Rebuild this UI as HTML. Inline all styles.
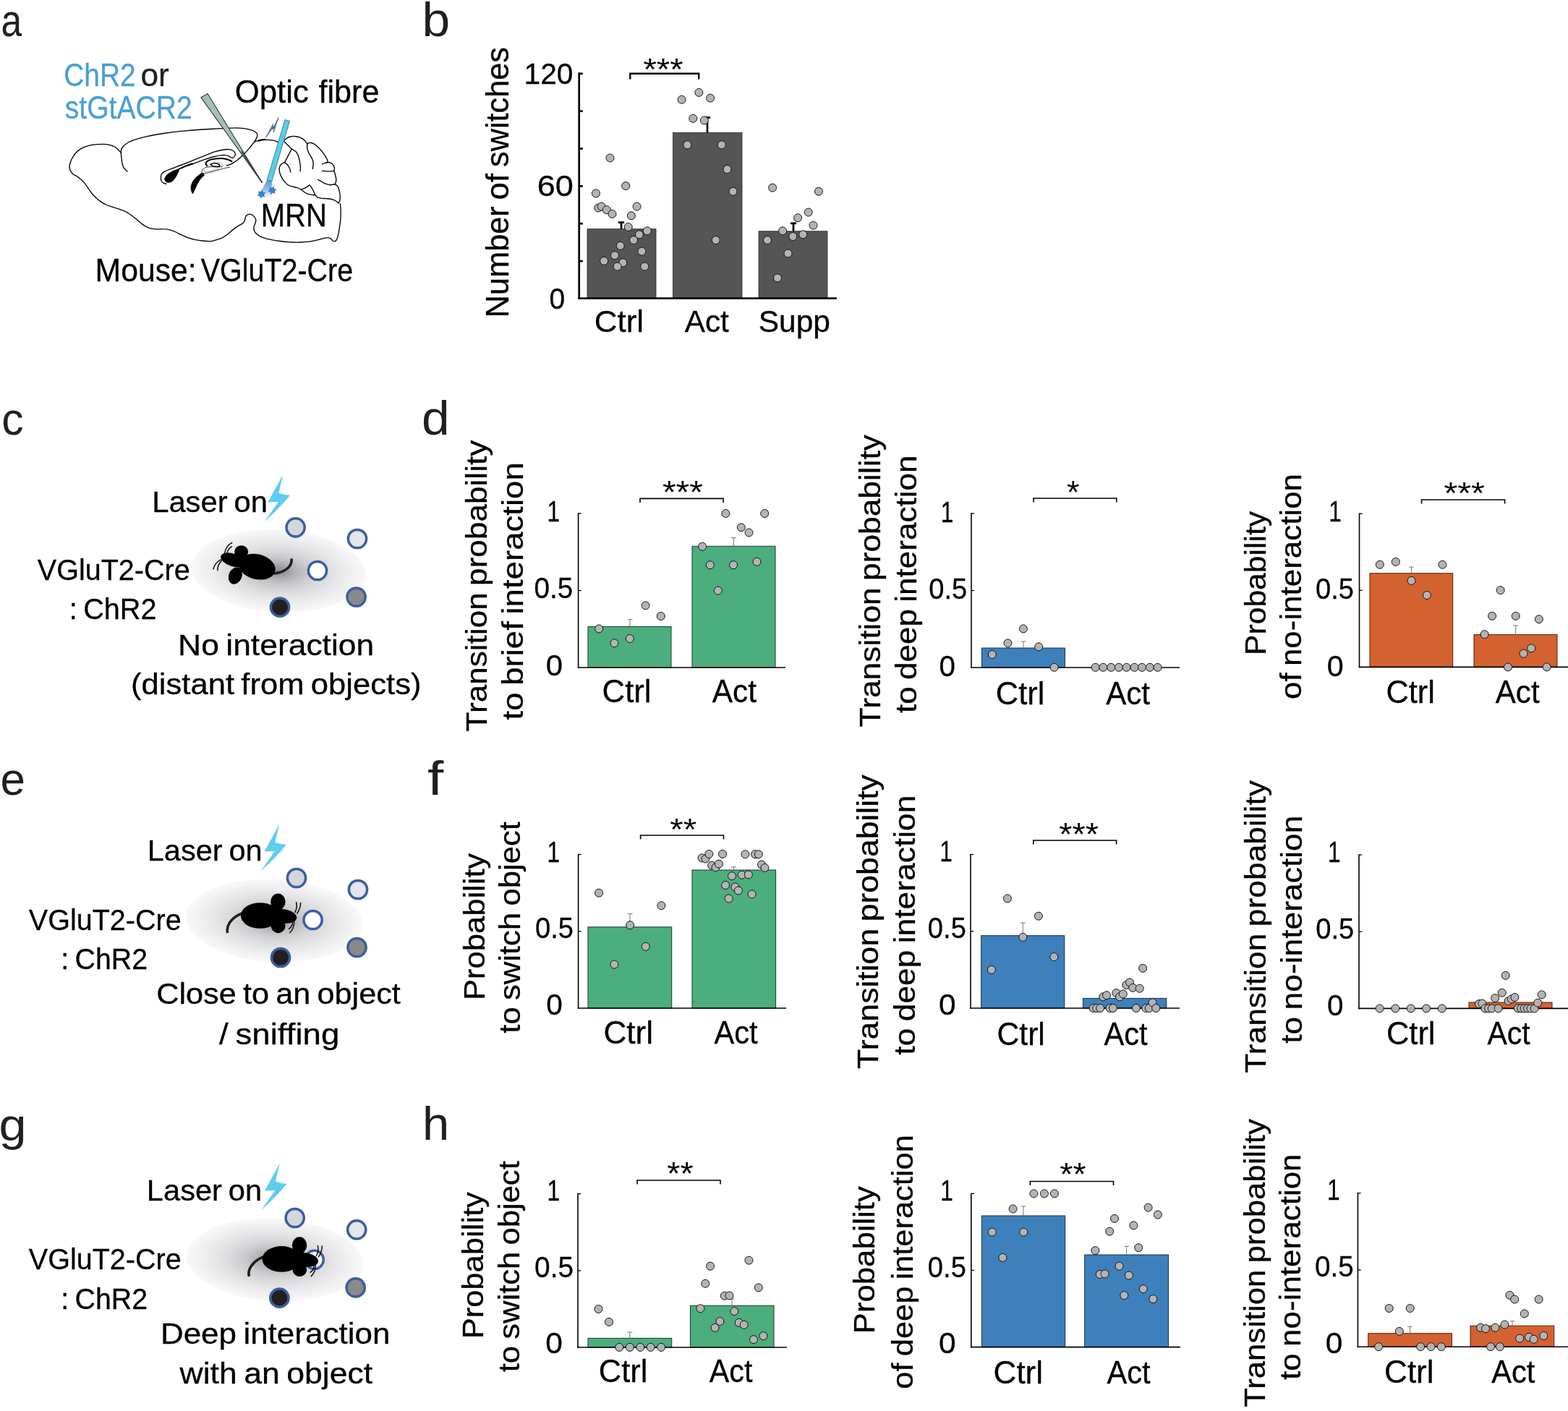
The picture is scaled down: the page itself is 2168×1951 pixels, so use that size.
<!DOCTYPE html>
<html lang="en">
<head>
<meta charset="utf-8">
<title>Figure</title>
<style>
html,body{margin:0;padding:0;background:#fff;}
body{width:2168px;height:1951px;overflow:hidden;}
svg{display:block;}
svg text{font-family:"Liberation Sans",sans-serif;}
svg text.s{stroke-width:0.3px;stroke-linejoin:round;}
</style>
</head>
<body>
<svg xmlns="http://www.w3.org/2000/svg" width="2168" height="1951" viewBox="0 0 2168 1951">
<rect width="2168" height="1951" fill="#fff"/>
<text transform="translate(1.48,50.17) scale(0.8058,0.9830)" font-size="64" fill="#231f20">a</text>
<text transform="translate(583.48,50.33) scale(1.0868,1.0417)" font-size="64" fill="#231f20">b</text>
<text transform="translate(2.16,600.57) scale(0.9520,0.9830)" font-size="64" fill="#231f20">c</text>
<text transform="translate(583.02,600.53) scale(1.0868,1.0438)" font-size="64" fill="#231f20">d</text>
<text transform="translate(0.61,1099.07) scale(0.9677,0.9830)" font-size="64" fill="#231f20">e</text>
<text transform="translate(590.99,1098.60) scale(1.2559,1.0517)" font-size="64" fill="#231f20">f</text>
<text transform="translate(-1.54,1576.68) scale(1.0694,0.9836)" font-size="64" fill="#231f20">g</text>
<text transform="translate(584.12,1575.80) scale(1.0454,1.0259)" font-size="64" fill="#231f20">h</text>
<g id="brain">
<path d="M176.0,237.0 C175.1,236.2 172.2,233.8 171.1,231.8 C169.9,229.9 169.4,227.8 168.9,225.3 C168.3,222.7 168.1,219.3 167.8,216.6 C167.5,213.9 167.0,211.1 167.3,209.0 C167.5,206.8 167.8,205.5 169.4,203.5 C171.1,201.5 174.0,198.8 177.1,197.0 C180.1,195.2 183.4,194.1 187.9,192.6 C192.5,191.2 197.9,189.7 204.3,188.3 C210.6,186.9 217.9,185.7 226.0,184.5 C234.2,183.3 244.2,182.1 253.2,181.2 C262.3,180.3 271.4,179.6 280.4,179.0 C289.4,178.5 299.8,178.1 307.3,177.7 C314.8,177.3 320.3,176.9 325.4,176.9 C330.5,176.9 333.9,177.2 337.8,177.7 C341.6,178.3 345.8,179.2 348.5,180.2 C351.2,181.1 353.0,182.4 354.3,183.5 C355.5,184.6 355.9,185.5 355.9,186.8 C356.0,188.0 355.4,189.4 354.7,190.9 C354.0,192.4 353.2,193.8 351.8,195.8 C350.4,197.9 347.9,200.9 346.0,203.3 C344.1,205.6 342.3,207.7 340.3,209.9 C338.2,212.1 335.6,214.6 333.7,216.5 C331.7,218.3 330.2,219.8 328.7,221.0 C327.2,222.2 326.1,222.9 324.6,223.9 C323.1,224.8 321.6,225.9 319.6,226.8 C317.7,227.6 314.1,228.6 313.1,229.0" fill="none" stroke="#000" stroke-width="1.35" stroke-linecap="round" stroke-linejoin="round" />
<path d="M167.5,211.1 C166.9,210.6 165.3,209.1 164.0,207.9 C162.7,206.6 161.5,204.7 159.6,203.5 C157.8,202.3 155.7,201.5 153.1,200.8 C150.6,200.1 147.7,199.6 144.4,199.4 C141.1,199.2 137.2,199.4 133.5,199.7 C129.9,200.0 126.3,200.4 122.6,201.3 C119.0,202.3 114.8,203.9 111.8,205.7 C108.7,207.5 106.2,209.9 104.1,212.2 C102.1,214.6 100.5,217.3 99.2,219.8 C98.0,222.4 97.0,225.3 96.5,227.5 C96.0,229.6 95.9,231.1 96.3,232.9 C96.7,234.7 97.6,236.8 98.7,238.3 C99.8,239.9 101.8,241.3 103.1,242.2 C104.3,243.0 104.9,242.6 106.3,243.6 C107.8,244.6 109.9,246.5 111.8,248.1 C113.6,249.8 115.4,251.4 117.2,253.6 C119.0,255.8 120.8,258.7 122.6,261.2 C124.5,263.7 126.3,266.6 128.1,268.8 C129.9,271.0 131.7,272.6 133.5,274.3 C135.3,275.9 136.8,277.2 139.0,278.6 C141.1,280.1 143.9,281.7 146.6,283.0 C149.3,284.2 152.4,285.2 155.3,286.2 C158.2,287.2 161.3,288.0 164.0,288.9 C166.7,289.9 169.1,290.5 171.6,291.7 C174.1,292.8 176.5,294.2 179.2,296.0 C181.9,297.8 185.2,300.4 187.9,302.5 C190.7,304.7 193.2,307.3 195.5,309.1 C197.9,310.9 200.1,312.3 202.1,313.4 C204.1,314.5 205.3,315.0 207.5,315.6 C209.7,316.2 212.1,316.7 215.1,316.9 C218.2,317.1 222.8,316.5 226.0,316.7 C229.3,316.8 232.0,317.1 234.7,317.8 C237.4,318.4 239.6,319.3 242.3,320.5 C245.1,321.7 248.1,323.5 251.0,324.9 C253.9,326.2 256.7,327.6 259.7,328.7 C262.8,329.7 266.1,330.7 269.5,331.4 C273.0,332.1 276.8,332.7 280.4,333.0 C284.1,333.4 288.0,333.8 291.3,333.6 C294.6,333.3 297.5,332.1 300.0,331.3 C302.5,330.6 304.2,330.3 306.6,329.1 C309.0,327.9 311.7,326.1 314.3,324.2 C316.8,322.3 319.4,319.6 322.0,317.6 C324.5,315.6 327.4,313.6 329.7,312.1 C332.0,310.6 334.3,309.9 335.7,308.8 C337.1,307.7 337.5,306.8 338.1,305.5 C338.7,304.2 338.8,302.4 339.2,301.1 C339.7,299.8 340.0,298.6 340.9,297.8 C341.8,297.0 343.2,296.2 344.5,296.2 C345.8,296.1 347.6,296.5 348.9,297.3 C350.2,298.0 351.4,299.3 352.2,300.5 C353.0,301.8 353.8,303.4 353.8,304.9 C353.9,306.5 353.0,308.2 352.5,309.9 C352.0,311.5 350.9,313.3 350.8,314.8 C350.6,316.4 351.0,317.8 351.6,319.2 C352.3,320.7 353.6,322.3 354.9,323.6 C356.3,324.9 357.9,325.9 359.9,326.9 C361.9,327.9 364.2,328.8 367.0,329.7 C369.9,330.5 373.4,331.2 376.9,331.9 C380.4,332.5 384.2,333.1 387.9,333.5 C391.6,334.0 395.2,334.4 398.9,334.6 C402.6,334.9 406.2,335.1 409.9,335.1 C413.6,335.1 417.2,334.9 420.9,334.6 C424.5,334.3 428.4,333.9 431.9,333.3 C435.3,332.7 439.0,331.8 441.8,331.1 C444.5,330.4 446.3,329.8 448.4,329.3 C450.4,328.9 452.3,328.4 453.8,328.6 C455.4,328.7 456.7,329.5 457.7,330.2 C458.7,331.0 459.0,332.4 459.9,333.0 C460.8,333.5 462.2,333.8 463.2,333.5 C464.2,333.2 465.0,332.6 465.7,331.1 C466.4,329.6 467.0,327.3 467.6,324.7 C468.2,322.2 468.7,319.2 469.2,315.9 C469.7,312.6 470.3,308.8 470.7,304.9 C471.0,301.1 471.2,296.7 471.2,292.9 C471.2,289.0 470.7,283.7 470.5,281.9" fill="none" stroke="#000" stroke-width="1.35" stroke-linecap="round" stroke-linejoin="round" />
<path d="M351.8,196.3 C352.9,195.8 355.9,194.4 358.4,193.8 C360.9,193.1 366.8,192.2 366.6,192.4 C366.4,192.6 357.3,194.9 357.1,195.1 C357.0,195.2 363.0,193.6 365.9,193.4 C368.9,193.2 372.2,193.5 374.7,193.7 C377.3,194.0 379.5,194.5 381.3,195.1 C383.2,195.6 385.0,196.9 385.7,197.3" fill="none" stroke="#000" stroke-width="1.35" stroke-linecap="round" stroke-linejoin="round" />
<path d="M392.3,195.1 C392.9,194.5 394.1,192.8 395.6,191.8 C397.1,190.8 399.1,189.6 401.1,189.0 C403.1,188.5 405.5,188.3 407.7,188.5 C409.9,188.6 412.3,189.0 414.3,189.8 C416.3,190.5 418.3,191.7 419.8,192.9 C421.2,194.0 422.3,195.7 423.1,196.7 C423.9,197.7 424.5,198.7 424.7,199.1" fill="none" stroke="#000" stroke-width="1.35" stroke-linecap="round" stroke-linejoin="round" />
<path d="M424.7,199.1 C425.4,198.8 427.0,197.3 428.6,197.3 C430.1,197.2 432.2,197.9 434.1,198.9 C435.9,199.9 437.7,201.6 439.6,203.3 C441.4,205.0 443.4,207.3 445.1,209.3 C446.7,211.4 448.3,213.6 449.5,215.4 C450.6,217.2 451.6,219.0 452.2,220.3 C452.8,221.7 453.1,222.6 453.0,223.4 C452.9,224.2 451.9,224.9 451.6,225.2" fill="none" stroke="#000" stroke-width="1.35" stroke-linecap="round" stroke-linejoin="round" />
<path d="M445.6,226.9 C446.1,226.7 447.0,226.0 448.4,225.6 C449.7,225.2 452.2,224.5 453.8,224.5 C455.5,224.5 457.0,225.1 458.2,225.8 C459.5,226.6 460.6,227.8 461.3,229.1 C462.0,230.4 462.3,232.2 462.4,233.5 C462.5,234.8 461.9,236.3 461.8,236.8" fill="none" stroke="#000" stroke-width="1.35" stroke-linecap="round" stroke-linejoin="round" />
<path d="M445.1,236.3 C445.8,236.3 447.6,236.5 449.5,236.6 C451.3,236.7 454.0,236.8 456.0,236.8 C458.1,236.8 460.5,235.9 461.8,236.8 C463.0,237.7 463.2,240.5 463.7,242.3 C464.2,244.1 464.7,246.2 464.8,247.8 C464.9,249.5 464.7,251.0 464.3,252.2 C463.9,253.4 462.9,254.5 462.6,254.9" fill="none" stroke="#000" stroke-width="1.35" stroke-linecap="round" stroke-linejoin="round" />
<path d="M439.6,248.4 C440.1,248.6 441.4,249.2 442.9,250.0 C444.3,250.8 446.2,252.3 448.4,253.3 C450.5,254.2 453.7,255.4 456.0,255.7 C458.4,256.0 460.8,254.6 462.6,254.9 C464.5,255.3 465.9,256.1 467.0,257.7 C468.1,259.2 468.7,261.9 469.2,264.3 C469.8,266.7 470.2,269.8 470.3,272.0 C470.4,274.2 470.1,276.0 469.8,277.5 C469.4,278.9 468.4,280.2 468.1,280.8" fill="none" stroke="#000" stroke-width="1.35" stroke-linecap="round" stroke-linejoin="round" />
<path d="M468.1,280.8 C467.4,280.2 465.4,278.4 463.7,277.5 C462.1,276.6 460.3,276.0 458.2,275.5 C456.2,275.0 454.0,274.9 451.6,274.7 C449.3,274.5 446.2,274.5 444.0,274.2 C441.8,273.8 439.8,273.4 438.5,272.5 C437.1,271.7 436.6,270.8 435.7,269.2 C434.8,267.7 434.0,265.1 433.0,263.2 C432.0,261.3 430.5,258.9 429.7,257.7 C428.8,256.5 428.3,256.3 428.0,256.0" fill="none" stroke="#000" stroke-width="1.35" stroke-linecap="round" stroke-linejoin="round" />
<path d="M424.7,199.1 C424.7,200.1 424.4,202.9 424.7,204.9 C425.1,207.0 425.9,209.3 426.9,211.5 C427.9,213.7 429.7,215.9 430.8,218.1 C431.8,220.3 432.9,222.2 433.2,224.7 C433.5,227.3 432.5,232.1 432.4,233.5" fill="none" stroke="#000" stroke-width="1.35" stroke-linecap="round" stroke-linejoin="round" />
<path d="M392.3,195.1 C392.9,195.6 394.3,197.1 395.6,198.4 C396.9,199.6 398.7,201.5 400.0,202.7 C401.3,204.0 401.8,204.9 403.3,206.0 C404.8,207.1 407.3,207.9 408.8,209.3 C410.3,210.8 411.2,212.6 412.1,214.8 C413.0,217.0 413.7,219.8 414.3,222.5 C414.8,225.3 415.2,228.9 415.4,231.3 C415.5,233.7 415.2,235.9 415.2,236.8" fill="none" stroke="#000" stroke-width="1.35" stroke-linecap="round" stroke-linejoin="round" />
<path d="M403.3,206.0 C401.6,209.2 395.1,221.6 393.4,224.7" fill="none" stroke="#000" stroke-width="1.35" stroke-linecap="round" stroke-linejoin="round" />
<path d="M393.4,224.7 C392.7,225.1 390.2,225.7 389.0,226.9 C387.8,228.1 386.6,229.9 386.3,231.9 C385.9,233.9 386.3,236.7 386.8,239.0 C387.4,241.3 388.5,243.6 389.6,245.6 C390.7,247.6 392.0,249.5 393.4,251.1 C394.8,252.7 396.2,254.4 397.8,255.5 C399.5,256.6 401.3,257.1 403.3,257.7 C405.3,258.3 407.9,258.7 409.9,259.3 C411.9,260.0 413.7,260.6 415.4,261.5 C417.0,262.5 418.3,263.8 419.8,264.8 C421.2,265.8 422.5,266.8 424.2,267.6 C425.8,268.3 427.7,268.9 429.7,269.2 C431.6,269.6 434.7,269.7 435.7,269.8" fill="none" stroke="#000" stroke-width="1.35" stroke-linecap="round" stroke-linejoin="round" />
<path d="M393.4,224.7 C394.0,225.1 395.7,225.9 396.7,226.9 C397.7,227.9 398.7,229.5 399.5,230.8 C400.2,232.1 400.7,233.4 401.1,234.6 C401.5,235.8 401.6,237.4 401.6,237.9" fill="none" stroke="#000" stroke-width="1.35" stroke-linecap="round" stroke-linejoin="round" />
<path d="M428.0,256.0 C427.0,256.7 423.9,258.9 422.0,259.9 C420.1,260.9 417.4,261.7 416.5,262.1" fill="none" stroke="#000" stroke-width="1.35" stroke-linecap="round" stroke-linejoin="round" />
<path d="M229.8,254.2 C229.2,254.0 227.2,253.8 226.1,253.1 C225.0,252.5 223.8,251.4 223.2,250.3 C222.6,249.1 222.4,247.6 222.4,246.1 C222.4,244.6 222.5,242.6 223.2,241.2 C223.9,239.8 224.6,239.1 226.5,237.9 C228.4,236.7 230.6,235.8 234.7,234.2 C238.9,232.5 245.7,230.1 251.2,228.0 C256.7,225.9 262.2,223.6 267.7,221.4 C273.2,219.2 279.4,216.7 284.2,214.8 C289.0,212.9 292.4,211.2 296.6,209.9 C300.7,208.6 305.5,207.5 308.9,207.0 C312.4,206.4 315.0,206.4 317.2,206.6 C319.4,206.8 320.8,207.4 322.1,208.2 C323.4,209.0 324.5,210.4 325.0,211.5 C325.5,212.6 325.3,213.8 325.0,214.8 C324.7,215.8 323.8,217.1 322.9,217.7 C322.1,218.2 321.2,218.4 320.1,218.1 C319.0,217.8 317.8,216.4 316.3,215.8 C314.9,215.2 313.3,214.7 311.4,214.6 C309.5,214.4 307.3,214.5 304.8,214.8 C302.3,215.1 300.0,215.6 296.6,216.5 C293.1,217.3 289.0,218.5 284.2,220.2 C279.4,221.8 272.5,224.6 267.7,226.3 C262.9,228.1 258.9,229.2 255.3,230.5 C251.8,231.8 247.8,233.6 246.3,234.2" fill="none" stroke="#000" stroke-width="1.35" stroke-linecap="round" stroke-linejoin="round" />
<path d="M227.7,247.0 C228.0,245.8 228.6,244.2 229.8,242.8 C231.0,241.5 232.8,240.0 234.7,238.7 C236.7,237.5 239.4,236.2 241.3,235.4 C243.3,234.7 245.2,234.2 246.3,234.2 C247.3,234.2 247.6,234.4 247.5,235.4 C247.4,236.4 246.3,238.6 245.4,240.4 C244.6,242.1 243.3,244.5 242.2,246.1 C241.1,247.8 240.1,249.2 238.9,250.3 C237.6,251.3 236.1,252.0 234.7,252.3 C233.4,252.6 231.7,252.3 230.6,251.9 C229.5,251.5 228.6,250.7 228.1,249.8 C227.7,249.0 227.4,248.1 227.7,247.0 Z" fill="#000" stroke="#000" stroke-width="0.5" stroke-linecap="round" stroke-linejoin="round" />
<path d="M246.3,234.4 C247.4,233.8 250.7,231.9 252.9,230.9 C255.1,229.8 257.3,229.0 259.5,228.2 C261.7,227.3 265.0,226.3 266.1,225.9" fill="none" stroke="#000" stroke-width="1.6" stroke-linecap="round" stroke-linejoin="round" />
<path d="M266.1,267.6 C265.4,266.9 264.3,263.7 264.0,261.8 C263.7,259.9 263.9,257.9 264.4,256.0 C264.9,254.1 265.8,252.0 266.9,250.3 C268.0,248.5 269.5,246.8 271.0,245.3 C272.5,243.8 274.6,242.1 276.0,241.2 C277.3,240.2 278.2,239.4 279.2,239.5 C280.3,239.7 282.7,240.9 282.5,242.0 C282.4,243.1 279.8,244.5 278.4,246.1 C277.1,247.8 275.5,249.8 274.3,251.9 C273.1,254.0 272.1,256.2 271.0,258.5 C269.9,260.8 268.5,264.4 267.7,265.9 C266.9,267.4 266.7,268.3 266.1,267.6 Z" fill="#000" stroke="#000" stroke-width="0.5" stroke-linecap="round" stroke-linejoin="round" />
<path d="M286.3,229.2 C286.0,228.8 284.6,227.4 284.6,226.3 C284.6,225.3 285.0,224.0 286.3,223.1 C287.6,222.1 290.0,221.1 292.4,220.4 C294.8,219.8 297.9,219.4 300.7,219.2 C303.4,219.0 306.5,218.9 308.9,219.2 C311.4,219.4 313.6,220.1 315.5,220.7 C317.4,221.4 319.6,222.8 320.5,223.2" fill="none" stroke="#000" stroke-width="2.0" stroke-linecap="round" stroke-linejoin="round" />
<path d="M291.2,227.2 C292.0,226.9 294.2,225.7 295.7,225.5 C297.3,225.4 299.3,225.8 300.7,226.3 C302.1,226.9 303.8,228.0 304.0,228.7 C304.1,229.3 302.9,230.2 301.5,230.5 C300.1,230.7 297.5,230.5 295.7,230.1 C294.0,229.6 292.0,228.0 291.2,227.6" fill="none" stroke="#000" stroke-width="1.5" stroke-linecap="round" stroke-linejoin="round" />
<path d="M300.7,224.3 C301.5,224.6 304.4,225.2 305.6,225.9 C306.9,226.7 308.0,228.0 308.1,228.8 C308.2,229.6 306.7,230.5 306.5,230.9" fill="none" stroke="#555" stroke-width="0.6" stroke-linecap="round" stroke-linejoin="round" />
<path d="M280.1,234.6 C280.8,234.1 282.1,232.4 284.2,231.7 C286.3,231.0 289.7,230.8 292.4,230.6 C295.2,230.5 298.2,230.9 300.7,230.9 C303.2,230.9 306.2,230.5 307.3,230.5" fill="none" stroke="#000" stroke-width="0.8" stroke-linecap="round" stroke-linejoin="round" />
<path d="M280.1,234.6 C279.9,235.3 278.7,237.9 278.8,238.7 C279.0,239.6 279.3,239.7 280.9,239.7 C282.5,239.7 285.7,239.3 288.3,238.7 C290.9,238.2 293.8,237.2 296.6,236.4 C299.3,235.6 302.3,234.9 304.8,234.2 C307.3,233.5 309.2,232.8 311.4,232.3 C313.6,231.8 316.9,231.5 318.0,231.3" fill="none" stroke="#000" stroke-width="0.8" stroke-linecap="round" stroke-linejoin="round" />
<path d="M282.5,235.4 C282.5,235.8 281.6,237.2 282.5,237.5 C283.5,237.8 286.0,237.5 288.3,237.1 C290.7,236.7 294.1,235.7 296.6,235.0 C299.0,234.3 302.1,233.3 303.2,232.9" fill="none" stroke="#444" stroke-width="0.5" stroke-linecap="round" stroke-linejoin="round" />
<path d="M320.5,218.9 C321.1,219.5 323.6,221.7 324.2,222.2" fill="none" stroke="#555" stroke-width="0.4" stroke-linecap="round" stroke-linejoin="round" />
</g>
<path d="M278.0,134.8 L287.1,129.5 L362.5,252.7 Z" fill="#a4c2b4" stroke="#2f3640" stroke-width="1.1" stroke-linejoin="miter"/>
<path d="M333.7,209.0 L362.5,252.7" stroke="#343845" stroke-width="1.6"/>
<defs><linearGradient id="cone" x1="0" y1="0" x2="0" y2="1"><stop offset="0" stop-color="#4d8fd0" stop-opacity="0.95"/><stop offset="0.5" stop-color="#7fb0e0" stop-opacity="0.8"/><stop offset="1" stop-color="#cfe2f5" stop-opacity="0"/></linearGradient></defs>
<path d="M369.2,248.9 L375.8,250.9 L375.8,276.4 L356.0,274.2 Z" fill="url(#cone)"/>
<path d="M394.0,165.4 L400.5,167.4 L375.8,250.9 L369.2,248.9 Z" fill="#5accE4" stroke="#1e6f86" stroke-width="0.8"/>
<path d="M362.62,262.36 L363.85,265.70 L367.36,266.34 L365.08,269.09 L366.29,272.45 L362.77,271.84 L360.46,274.57 L359.22,271.22 L355.71,270.58 L357.99,267.84 L356.79,264.48 L360.31,265.08 Z" fill="#3f7fc9"/>
<path d="M378.49,257.36 L379.13,260.87 L382.48,262.11 L379.76,264.42 L380.36,267.94 L377.00,266.73 L374.25,269.01 L373.62,265.50 L370.27,264.26 L372.99,261.96 L372.39,258.44 L375.75,259.64 Z" fill="#3f7fc9"/>
<path d="M367.6,190.1 L377.5,171.4 L376.9,178.8 L385.2,162.1 L378.2,183.0 L378.9,174.4 Z" fill="#4a90d9" stroke="#222" stroke-width="0.5" stroke-linejoin="round"/>
<g id="panel-a">
<text class="s" transform="translate(88.25,118.90) scale(0.8850,1.0000)" font-size="44.0" fill="#4a9fd4" stroke="#4a9fd4">ChR2</text>
<text class="s" transform="translate(194.43,118.90) scale(1.0049,1.0000)" font-size="44.0" fill="#231f20" stroke="#231f20">or</text>
<text class="s" transform="translate(89.73,164.20) scale(0.8890,1.0000)" font-size="44.0" fill="#4a9fd4" stroke="#4a9fd4">stGtACR2</text>
<text class="s" transform="translate(324.83,141.90) scale(0.9934,1.0000)" font-size="44.0" fill="#000" stroke="#000">Optic</text>
<text class="s" transform="translate(440.55,141.90) scale(0.9802,1.0000)" font-size="44.0" fill="#000" stroke="#000">fibre</text>
<text class="s" transform="translate(360.69,312.70) scale(0.9112,1.0000)" font-size="44.0" fill="#000" stroke="#000">MRN</text>
<text class="s" transform="translate(131.58,388.90) scale(0.9706,1.0000)" font-size="44.0" fill="#000" stroke="#000">Mouse:</text>
<text class="s" transform="translate(277.70,388.90) scale(0.8970,1.0000)" font-size="44.0" fill="#000" stroke="#000">VGluT2-Cre</text>
</g>
<g id="panel-b">
<rect x="812.00" y="316.60" width="95.00" height="95.90" fill="#555555" stroke="#2a2a2a" stroke-width="0.8"/>
<rect x="930.40" y="183.30" width="95.60" height="229.20" fill="#555555" stroke="#2a2a2a" stroke-width="0.8"/>
<rect x="1049.00" y="319.70" width="95.00" height="92.80" fill="#555555" stroke="#2a2a2a" stroke-width="0.8"/>
<line x1="800.70" y1="100.40" x2="800.70" y2="413.80" stroke="#000" stroke-width="2.7" stroke-linecap="butt"/>
<line x1="799.40" y1="412.50" x2="1157.00" y2="412.50" stroke="#000" stroke-width="2.3" stroke-linecap="butt"/>
<line x1="800.00" y1="101.80" x2="805.80" y2="101.80" stroke="#000" stroke-width="2.7" stroke-linecap="butt"/>
<line x1="800.00" y1="153.65" x2="805.80" y2="153.65" stroke="#000" stroke-width="2.7" stroke-linecap="butt"/>
<line x1="800.00" y1="205.50" x2="805.80" y2="205.50" stroke="#000" stroke-width="2.7" stroke-linecap="butt"/>
<line x1="800.00" y1="257.35" x2="805.80" y2="257.35" stroke="#000" stroke-width="2.7" stroke-linecap="butt"/>
<line x1="800.00" y1="309.20" x2="805.80" y2="309.20" stroke="#000" stroke-width="2.7" stroke-linecap="butt"/>
<line x1="800.00" y1="361.05" x2="805.80" y2="361.05" stroke="#000" stroke-width="2.7" stroke-linecap="butt"/>
<line x1="859.00" y1="307.50" x2="859.00" y2="316.60" stroke="#000" stroke-width="2.7" stroke-linecap="butt"/>
<line x1="854.90" y1="307.50" x2="863.10" y2="307.50" stroke="#000" stroke-width="2.7" stroke-linecap="butt"/>
<line x1="978.00" y1="162.50" x2="978.00" y2="183.30" stroke="#000" stroke-width="2.7" stroke-linecap="butt"/>
<line x1="973.90" y1="162.50" x2="982.10" y2="162.50" stroke="#000" stroke-width="2.7" stroke-linecap="butt"/>
<line x1="1097.00" y1="308.80" x2="1097.00" y2="319.70" stroke="#000" stroke-width="2.7" stroke-linecap="butt"/>
<line x1="1092.90" y1="308.80" x2="1101.10" y2="308.80" stroke="#000" stroke-width="2.7" stroke-linecap="butt"/>
<g fill="#b3b3b3" stroke="#151515" stroke-width="1.0"><circle cx="843.5" cy="218.4" r="5.5"/><circle cx="823.9" cy="267.4" r="5.5"/><circle cx="865.2" cy="257.0" r="5.5"/><circle cx="827.2" cy="287.5" r="5.5"/><circle cx="831.6" cy="285.5" r="5.5"/><circle cx="838.8" cy="290.2" r="5.5"/><circle cx="846.5" cy="295.8" r="5.5"/><circle cx="880.6" cy="285.5" r="5.5"/><circle cx="872.9" cy="298.2" r="5.5"/><circle cx="868.7" cy="313.9" r="5.5"/><circle cx="894.8" cy="319.3" r="5.5"/><circle cx="883.9" cy="324.3" r="5.5"/><circle cx="876.1" cy="332.0" r="5.5"/><circle cx="857.7" cy="339.8" r="5.5"/><circle cx="887.4" cy="347.5" r="5.5"/><circle cx="850.0" cy="353.1" r="5.5"/><circle cx="835.2" cy="360.8" r="5.5"/><circle cx="861.3" cy="363.2" r="5.5"/><circle cx="853.6" cy="368.5" r="5.5"/><circle cx="891.3" cy="368.5" r="5.5"/></g>
<g fill="#b3b3b3" stroke="#151515" stroke-width="1.0"><circle cx="942.6" cy="137.7" r="5.5"/><circle cx="966.4" cy="127.9" r="5.5"/><circle cx="982.1" cy="135.6" r="5.5"/><circle cx="958.3" cy="163.8" r="5.5"/><circle cx="973.8" cy="166.5" r="5.5"/><circle cx="950.3" cy="200.3" r="5.5"/><circle cx="997.8" cy="200.3" r="5.5"/><circle cx="1005.5" cy="234.1" r="5.5"/><circle cx="1013.5" cy="264.7" r="5.5"/><circle cx="989.8" cy="332.0" r="5.5"/></g>
<g fill="#b3b3b3" stroke="#151515" stroke-width="1.0"><circle cx="1068.1" cy="259.6" r="5.5"/><circle cx="1131.9" cy="264.7" r="5.5"/><circle cx="1117.7" cy="293.5" r="5.5"/><circle cx="1103.1" cy="301.2" r="5.5"/><circle cx="1124.5" cy="311.6" r="5.5"/><circle cx="1082.1" cy="319.3" r="5.5"/><circle cx="1110.3" cy="324.3" r="5.5"/><circle cx="1096.3" cy="327.0" r="5.5"/><circle cx="1061.0" cy="332.0" r="5.5"/><circle cx="1089.5" cy="350.4" r="5.5"/><circle cx="1075.0" cy="384.3" r="5.5"/></g>
<path d="M871.30,109.50 V101.70 H966.20 V109.50" fill="none" stroke="#000" stroke-width="2.4"/>
<text transform="translate(889.45,110.18) scale(0.7384,0.6563)" font-size="64" fill="#000">***</text>
<text class="s" transform="translate(724.55,115.50) scale(0.9810,1.0000)" font-size="41.5" fill="#000" stroke="#000">120</text>
<text class="s" transform="translate(742.75,271.00) scale(1.0867,1.0000)" font-size="41.5" fill="#000" stroke="#000">60</text>
<text class="s" transform="translate(759.44,426.50) scale(0.9385,1.0000)" font-size="41.5" fill="#000" stroke="#000">0</text>
<text class="s" transform="translate(821.81,459.20) scale(1.0450,1.0000)" font-size="42" fill="#000" stroke="#000">Ctrl</text>
<text class="s" transform="translate(946.69,459.20) scale(1.0073,1.0000)" font-size="42" fill="#000" stroke="#000">Act</text>
<text class="s" transform="translate(1048.79,459.20) scale(1.0116,1.0000)" font-size="42" fill="#000" stroke="#000">Supp</text>
<text class="s" transform="translate(703.30,439.16) rotate(-90) scale(0.9947,1.0000)" font-size="43.5" word-spacing="-2.87" fill="#000" stroke="#000">Number of switches</text>
</g>
<g id="panel-d1">
<rect x="813.00" y="866.40" width="115.00" height="56.60" fill="#4bae7c" stroke="#143a27" stroke-width="1.0"/>
<rect x="957.00" y="755.30" width="115.00" height="167.70" fill="#4bae7c" stroke="#143a27" stroke-width="1.0"/>
<line x1="799.60" y1="709.30" x2="799.60" y2="923.80" stroke="#000" stroke-width="1.6" stroke-linecap="butt"/>
<line x1="798.80" y1="923.00" x2="1086.00" y2="923.00" stroke="#000" stroke-width="1.6" stroke-linecap="butt"/>
<line x1="799.60" y1="710.00" x2="803.80" y2="710.00" stroke="#000" stroke-width="1.3" stroke-linecap="butt"/>
<line x1="799.60" y1="816.50" x2="803.80" y2="816.50" stroke="#000" stroke-width="1.3" stroke-linecap="butt"/>
<line x1="871.00" y1="856.60" x2="871.00" y2="866.40" stroke="#666" stroke-width="0.9" stroke-linecap="butt"/>
<line x1="867.50" y1="856.60" x2="874.50" y2="856.60" stroke="#666" stroke-width="0.9" stroke-linecap="butt"/>
<line x1="1014.40" y1="743.60" x2="1014.40" y2="755.30" stroke="#666" stroke-width="0.9" stroke-linecap="butt"/>
<line x1="1010.90" y1="743.60" x2="1017.90" y2="743.60" stroke="#666" stroke-width="0.9" stroke-linecap="butt"/>
<g fill="#b3b3b3" stroke="#151515" stroke-width="1.0"><circle cx="828.1" cy="869.4" r="5.5"/><circle cx="849.4" cy="889.3" r="5.5"/><circle cx="870.8" cy="883.0" r="5.5"/><circle cx="892.5" cy="837.3" r="5.5"/><circle cx="913.8" cy="851.9" r="5.5"/><circle cx="971.1" cy="755.7" r="5.5"/><circle cx="981.8" cy="781.2" r="5.5"/><circle cx="992.8" cy="816.6" r="5.5"/><circle cx="1003.4" cy="710.0" r="5.5"/><circle cx="1014.1" cy="781.2" r="5.5"/><circle cx="1024.8" cy="729.3" r="5.5"/><circle cx="1035.5" cy="736.4" r="5.5"/><circle cx="1046.5" cy="776.8" r="5.5"/><circle cx="1057.2" cy="710.0" r="5.5"/></g>
<path d="M885.00,695.00 V689.40 H1000.00 V695.00" fill="none" stroke="#000" stroke-width="1.6"/>
<text transform="translate(915.94,695.95) scale(0.7481,0.6964)" font-size="64" fill="#000">***</text>
<text class="s" transform="translate(756.53,721.20) scale(0.7621,1.0000)" font-size="41.5" fill="#000" stroke="#000">1</text>
<text class="s" transform="translate(738.55,826.90) scale(0.9326,1.0000)" font-size="41.5" fill="#000" stroke="#000">0.5</text>
<text class="s" transform="translate(754.72,933.60) scale(1.0095,1.0000)" font-size="41.5" fill="#000" stroke="#000">0</text>
<text class="s" transform="translate(832.62,971.30) scale(1.0042,1.0000)" font-size="43.5" fill="#000" stroke="#000">Ctrl</text>
<text class="s" transform="translate(984.79,971.30) scale(0.9726,1.0000)" font-size="43.5" fill="#000" stroke="#000">Act</text>
<text class="s" transform="translate(673.10,1011.38) rotate(-90) scale(1.0768,1.0000)" font-size="41.0" word-spacing="-2.71" fill="#000" stroke="#000">Transition probability</text>
<text class="s" transform="translate(723.20,995.48) rotate(-90) scale(1.1120,1.0000)" font-size="41.0" word-spacing="-2.71" fill="#000" stroke="#000">to brief interaction</text>
</g>
<g id="panel-d2">
<rect x="1357.60" y="896.00" width="114.80" height="27.00" fill="#3e80bb" stroke="#14304c" stroke-width="1.0"/>
<line x1="1343.00" y1="709.30" x2="1343.00" y2="923.80" stroke="#000" stroke-width="1.6" stroke-linecap="butt"/>
<line x1="1342.20" y1="923.00" x2="1631.00" y2="923.00" stroke="#000" stroke-width="1.6" stroke-linecap="butt"/>
<line x1="1343.00" y1="710.00" x2="1347.20" y2="710.00" stroke="#000" stroke-width="1.3" stroke-linecap="butt"/>
<line x1="1343.00" y1="816.50" x2="1347.20" y2="816.50" stroke="#000" stroke-width="1.3" stroke-linecap="butt"/>
<line x1="1415.00" y1="887.00" x2="1415.00" y2="896.00" stroke="#666" stroke-width="0.9" stroke-linecap="butt"/>
<line x1="1411.50" y1="887.00" x2="1418.50" y2="887.00" stroke="#666" stroke-width="0.9" stroke-linecap="butt"/>
<g fill="#b3b3b3" stroke="#151515" stroke-width="1.0"><circle cx="1371.8" cy="905.0" r="5.5"/><circle cx="1393.5" cy="889.3" r="5.5"/><circle cx="1414.9" cy="869.4" r="5.5"/><circle cx="1436.2" cy="894.3" r="5.5"/><circle cx="1457.6" cy="922.8" r="5.5"/><circle cx="1514.6" cy="922.8" r="5.5"/><circle cx="1525.3" cy="922.8" r="5.5"/><circle cx="1536.2" cy="922.8" r="5.5"/><circle cx="1546.9" cy="922.8" r="5.5"/><circle cx="1557.6" cy="922.8" r="5.5"/><circle cx="1568.6" cy="922.8" r="5.5"/><circle cx="1579.0" cy="922.8" r="5.5"/><circle cx="1589.9" cy="922.8" r="5.5"/><circle cx="1600.6" cy="922.8" r="5.5"/></g>
<path d="M1429.00,694.60 V689.00 H1543.80 V694.60" fill="none" stroke="#000" stroke-width="1.6"/>
<text transform="translate(1474.90,696.36) scale(0.7009,0.6875)" font-size="64" fill="#000">*</text>
<text class="s" transform="translate(1300.63,722.10) scale(0.7621,1.0000)" font-size="41.5" fill="#000" stroke="#000">1</text>
<text class="s" transform="translate(1284.27,827.50) scale(0.9197,1.0000)" font-size="41.5" fill="#000" stroke="#000">0.5</text>
<text class="s" transform="translate(1298.58,935.40) scale(0.9740,1.0000)" font-size="41.5" fill="#000" stroke="#000">0</text>
<text class="s" transform="translate(1376.83,974.00) scale(0.9978,1.0000)" font-size="43.5" fill="#000" stroke="#000">Ctrl</text>
<text class="s" transform="translate(1529.19,974.00) scale(0.9678,1.0000)" font-size="43.5" fill="#000" stroke="#000">Act</text>
<text class="s" transform="translate(1217.30,1005.19) rotate(-90) scale(1.0808,1.0000)" font-size="41.0" word-spacing="-2.71" fill="#000" stroke="#000">Transition probability</text>
<text class="s" transform="translate(1266.90,985.96) rotate(-90) scale(1.0739,1.0000)" font-size="41.0" word-spacing="-2.71" fill="#000" stroke="#000">to deep interaction</text>
</g>
<g id="panel-d3">
<rect x="1894.00" y="792.70" width="114.70" height="129.70" fill="#d46230" stroke="#4f200b" stroke-width="1.0"/>
<rect x="2038.00" y="877.40" width="115.00" height="45.00" fill="#d46230" stroke="#4f200b" stroke-width="1.0"/>
<line x1="1879.50" y1="709.60" x2="1879.50" y2="923.20" stroke="#000" stroke-width="1.6" stroke-linecap="butt"/>
<line x1="1878.70" y1="922.40" x2="2168.00" y2="922.40" stroke="#000" stroke-width="1.6" stroke-linecap="butt"/>
<line x1="1879.50" y1="710.30" x2="1883.70" y2="710.30" stroke="#000" stroke-width="1.3" stroke-linecap="butt"/>
<line x1="1879.50" y1="816.35" x2="1883.70" y2="816.35" stroke="#000" stroke-width="1.3" stroke-linecap="butt"/>
<line x1="1951.50" y1="784.00" x2="1951.50" y2="792.70" stroke="#666" stroke-width="0.9" stroke-linecap="butt"/>
<line x1="1948.00" y1="784.00" x2="1955.00" y2="784.00" stroke="#666" stroke-width="0.9" stroke-linecap="butt"/>
<line x1="2095.70" y1="865.00" x2="2095.70" y2="877.40" stroke="#666" stroke-width="0.9" stroke-linecap="butt"/>
<line x1="2092.20" y1="865.00" x2="2099.20" y2="865.00" stroke="#666" stroke-width="0.9" stroke-linecap="butt"/>
<g fill="#b3b3b3" stroke="#151515" stroke-width="1.0"><circle cx="1907.8" cy="780.7" r="5.5"/><circle cx="1929.8" cy="776.8" r="5.5"/><circle cx="1951.5" cy="802.9" r="5.5"/><circle cx="1972.9" cy="823.0" r="5.5"/><circle cx="1994.4" cy="780.7" r="5.5"/><circle cx="2052.6" cy="877.1" r="5.5"/><circle cx="2063.1" cy="851.8" r="5.5"/><circle cx="2074.6" cy="816.1" r="5.5"/><circle cx="2085.0" cy="922.4" r="5.5"/><circle cx="2095.7" cy="851.8" r="5.5"/><circle cx="2106.5" cy="903.7" r="5.5"/><circle cx="2117.2" cy="896.3" r="5.5"/><circle cx="2127.9" cy="856.2" r="5.5"/><circle cx="2138.6" cy="922.4" r="5.5"/></g>
<path d="M1965.50,696.60 V691.00 H2080.60 V696.60" fill="none" stroke="#000" stroke-width="1.6"/>
<text transform="translate(1996.44,696.18) scale(0.7522,0.6562)" font-size="64" fill="#000">***</text>
<text class="s" transform="translate(1837.33,721.20) scale(0.7621,1.0000)" font-size="41.5" fill="#000" stroke="#000">1</text>
<text class="s" transform="translate(1818.97,827.50) scale(0.9197,1.0000)" font-size="41.5" fill="#000" stroke="#000">0.5</text>
<text class="s" transform="translate(1834.85,935.20) scale(0.9943,1.0000)" font-size="41.5" fill="#000" stroke="#000">0</text>
<text class="s" transform="translate(1916.43,971.50) scale(0.9978,1.0000)" font-size="43.5" fill="#000" stroke="#000">Ctrl</text>
<text class="s" transform="translate(2067.79,971.50) scale(0.9678,1.0000)" font-size="43.5" fill="#000" stroke="#000">Act</text>
<text class="s" transform="translate(1749.50,906.01) rotate(-90) scale(1.0410,1.0000)" font-size="41.0" fill="#000" stroke="#000">Probability</text>
<text class="s" transform="translate(1799.20,966.96) rotate(-90) scale(1.0712,1.0000)" font-size="41.0" word-spacing="-2.71" fill="#000" stroke="#000">of no-interaction</text>
</g>
<g id="panel-f1">
<rect x="813.00" y="1281.80" width="115.70" height="112.20" fill="#4bae7c" stroke="#143a27" stroke-width="1.0"/>
<rect x="957.00" y="1203.00" width="115.60" height="191.00" fill="#4bae7c" stroke="#143a27" stroke-width="1.0"/>
<line x1="799.60" y1="1180.80" x2="799.60" y2="1394.80" stroke="#000" stroke-width="1.6" stroke-linecap="butt"/>
<line x1="798.80" y1="1394.00" x2="1087.00" y2="1394.00" stroke="#000" stroke-width="1.6" stroke-linecap="butt"/>
<line x1="799.60" y1="1181.50" x2="803.80" y2="1181.50" stroke="#000" stroke-width="1.3" stroke-linecap="butt"/>
<line x1="799.60" y1="1287.75" x2="803.80" y2="1287.75" stroke="#000" stroke-width="1.3" stroke-linecap="butt"/>
<line x1="871.00" y1="1263.40" x2="871.00" y2="1281.80" stroke="#666" stroke-width="0.9" stroke-linecap="butt"/>
<line x1="867.50" y1="1263.40" x2="874.50" y2="1263.40" stroke="#666" stroke-width="0.9" stroke-linecap="butt"/>
<line x1="1014.40" y1="1198.80" x2="1014.40" y2="1203.00" stroke="#666" stroke-width="0.9" stroke-linecap="butt"/>
<line x1="1010.90" y1="1198.80" x2="1017.90" y2="1198.80" stroke="#666" stroke-width="0.9" stroke-linecap="butt"/>
<g fill="#b3b3b3" stroke="#151515" stroke-width="1.0"><circle cx="828.1" cy="1234.7" r="5.5"/><circle cx="849.4" cy="1333.5" r="5.5"/><circle cx="871.1" cy="1279.2" r="5.5"/><circle cx="892.8" cy="1308.8" r="5.5"/><circle cx="914.4" cy="1252.2" r="5.5"/><circle cx="970.5" cy="1186.3" r="5.5"/><circle cx="975.5" cy="1187.5" r="5.5"/><circle cx="980.3" cy="1180.9" r="5.5"/><circle cx="984.2" cy="1196.7" r="5.5"/><circle cx="989.5" cy="1199.3" r="5.5"/><circle cx="993.9" cy="1194.6" r="5.5"/><circle cx="999.0" cy="1180.9" r="5.5"/><circle cx="1003.1" cy="1224.0" r="5.5"/><circle cx="1007.6" cy="1242.4" r="5.5"/><circle cx="1012.0" cy="1211.2" r="5.5"/><circle cx="1016.5" cy="1226.4" r="5.5"/><circle cx="1020.9" cy="1231.4" r="5.5"/><circle cx="1025.7" cy="1209.7" r="5.5"/><circle cx="1030.4" cy="1181.2" r="5.5"/><circle cx="1034.9" cy="1209.4" r="5.5"/><circle cx="1039.6" cy="1236.4" r="5.5"/><circle cx="1044.1" cy="1181.2" r="5.5"/><circle cx="1048.8" cy="1181.2" r="5.5"/><circle cx="1053.0" cy="1195.5" r="5.5"/><circle cx="1057.4" cy="1199.9" r="5.5"/></g>
<path d="M885.60,1160.60 V1155.00 H1000.50 V1160.60" fill="none" stroke="#000" stroke-width="1.6"/>
<text transform="translate(926.25,1161.18) scale(0.7390,0.6607)" font-size="64" fill="#000">**</text>
<text class="s" transform="translate(756.43,1191.50) scale(0.7621,1.0000)" font-size="41.5" fill="#000" stroke="#000">1</text>
<text class="s" transform="translate(739.97,1297.30) scale(0.9197,1.0000)" font-size="41.5" fill="#000" stroke="#000">0.5</text>
<text class="s" transform="translate(755.27,1403.30) scale(0.9791,1.0000)" font-size="41.5" fill="#000" stroke="#000">0</text>
<text class="s" transform="translate(834.50,1443.00) scale(1.0137,1.0000)" font-size="43.5" fill="#000" stroke="#000">Ctrl</text>
<text class="s" transform="translate(987.49,1443.00) scale(0.9581,1.0000)" font-size="43.5" fill="#000" stroke="#000">Act</text>
<text class="s" transform="translate(670.30,1383.09) rotate(-90) scale(1.0629,1.0000)" font-size="41.0" fill="#000" stroke="#000">Probability</text>
<text class="s" transform="translate(719.10,1428.75) rotate(-90) scale(1.0650,1.0000)" font-size="41.0" word-spacing="-2.71" fill="#000" stroke="#000">to switch object</text>
</g>
<g id="panel-f2">
<rect x="1356.70" y="1293.70" width="115.10" height="100.30" fill="#3e80bb" stroke="#14304c" stroke-width="1.0"/>
<rect x="1497.40" y="1380.40" width="115.40" height="13.60" fill="#3e80bb" stroke="#14304c" stroke-width="1.0"/>
<line x1="1342.00" y1="1180.80" x2="1342.00" y2="1394.80" stroke="#000" stroke-width="1.6" stroke-linecap="butt"/>
<line x1="1341.20" y1="1394.00" x2="1631.00" y2="1394.00" stroke="#000" stroke-width="1.6" stroke-linecap="butt"/>
<line x1="1342.00" y1="1181.50" x2="1346.20" y2="1181.50" stroke="#000" stroke-width="1.3" stroke-linecap="butt"/>
<line x1="1342.00" y1="1287.75" x2="1346.20" y2="1287.75" stroke="#000" stroke-width="1.3" stroke-linecap="butt"/>
<line x1="1414.30" y1="1276.00" x2="1414.30" y2="1293.70" stroke="#666" stroke-width="0.9" stroke-linecap="butt"/>
<line x1="1410.80" y1="1276.00" x2="1417.80" y2="1276.00" stroke="#666" stroke-width="0.9" stroke-linecap="butt"/>
<g fill="#b3b3b3" stroke="#151515" stroke-width="1.0"><circle cx="1370.9" cy="1340.9" r="5.5"/><circle cx="1392.9" cy="1242.4" r="5.5"/><circle cx="1414.3" cy="1295.8" r="5.5"/><circle cx="1435.9" cy="1266.7" r="5.5"/><circle cx="1457.3" cy="1323.1" r="5.5"/><circle cx="1511.6" cy="1394.0" r="5.5"/><circle cx="1516.1" cy="1394.0" r="5.5"/><circle cx="1521.1" cy="1394.0" r="5.5"/><circle cx="1525.3" cy="1378.3" r="5.5"/><circle cx="1530.0" cy="1376.2" r="5.5"/><circle cx="1534.5" cy="1394.0" r="5.5"/><circle cx="1538.9" cy="1394.0" r="5.5"/><circle cx="1543.4" cy="1372.9" r="5.5"/><circle cx="1548.1" cy="1378.3" r="5.5"/><circle cx="1552.8" cy="1374.4" r="5.5"/><circle cx="1557.3" cy="1362.0" r="5.5"/><circle cx="1562.0" cy="1358.4" r="5.5"/><circle cx="1566.2" cy="1365.8" r="5.5"/><circle cx="1570.9" cy="1394.0" r="5.5"/><circle cx="1575.7" cy="1366.7" r="5.5"/><circle cx="1580.1" cy="1338.8" r="5.5"/><circle cx="1584.3" cy="1394.0" r="5.5"/><circle cx="1588.8" cy="1394.0" r="5.5"/><circle cx="1593.5" cy="1386.3" r="5.5"/><circle cx="1598.2" cy="1394.0" r="5.5"/></g>
<path d="M1428.80,1167.60 V1162.00 H1543.60 V1167.60" fill="none" stroke="#000" stroke-width="1.6"/>
<text transform="translate(1464.26,1168.75) scale(0.7315,0.7054)" font-size="64" fill="#000">***</text>
<text class="s" transform="translate(1299.33,1191.20) scale(0.7621,1.0000)" font-size="41.5" fill="#000" stroke="#000">1</text>
<text class="s" transform="translate(1282.87,1296.70) scale(0.9197,1.0000)" font-size="41.5" fill="#000" stroke="#000">0.5</text>
<text class="s" transform="translate(1298.10,1403.30) scale(1.0247,1.0000)" font-size="41.5" fill="#000" stroke="#000">0</text>
<text class="s" transform="translate(1378.46,1445.00) scale(0.9818,1.0000)" font-size="43.5" fill="#000" stroke="#000">Ctrl</text>
<text class="s" transform="translate(1526.49,1445.00) scale(0.9581,1.0000)" font-size="43.5" fill="#000" stroke="#000">Act</text>
<text class="s" transform="translate(1214.30,1477.89) rotate(-90) scale(1.0875,1.0000)" font-size="41.0" word-spacing="-2.71" fill="#000" stroke="#000">Transition probability</text>
<text class="s" transform="translate(1265.20,1458.67) rotate(-90) scale(1.0821,1.0000)" font-size="41.0" word-spacing="-2.71" fill="#000" stroke="#000">to deep interaction</text>
</g>
<g id="panel-f3">
<rect x="2031.00" y="1386.00" width="115.00" height="8.40" fill="#d46230" stroke="#4f200b" stroke-width="1.0"/>
<line x1="1879.00" y1="1181.30" x2="1879.00" y2="1395.20" stroke="#000" stroke-width="1.6" stroke-linecap="butt"/>
<line x1="1878.20" y1="1394.40" x2="2168.00" y2="1394.40" stroke="#000" stroke-width="1.6" stroke-linecap="butt"/>
<line x1="1879.00" y1="1182.00" x2="1883.20" y2="1182.00" stroke="#000" stroke-width="1.3" stroke-linecap="butt"/>
<line x1="1879.00" y1="1288.20" x2="1883.20" y2="1288.20" stroke="#000" stroke-width="1.3" stroke-linecap="butt"/>
<g fill="#b3b3b3" stroke="#151515" stroke-width="1.0"><circle cx="1907.6" cy="1394.4" r="5.5"/><circle cx="1929.3" cy="1394.4" r="5.5"/><circle cx="1950.7" cy="1394.4" r="5.5"/><circle cx="1972.1" cy="1394.4" r="5.5"/><circle cx="1993.8" cy="1394.4" r="5.5"/><circle cx="2044.9" cy="1388.1" r="5.5"/><circle cx="2049.3" cy="1387.5" r="5.5"/><circle cx="2053.4" cy="1394.4" r="5.5"/><circle cx="2058.1" cy="1394.4" r="5.5"/><circle cx="2062.8" cy="1394.4" r="5.5"/><circle cx="2067.2" cy="1380.1" r="5.5"/><circle cx="2071.6" cy="1394.4" r="5.5"/><circle cx="2076.8" cy="1372.7" r="5.5"/><circle cx="2081.7" cy="1348.8" r="5.5"/><circle cx="2085.6" cy="1384.0" r="5.5"/><circle cx="2089.7" cy="1381.5" r="5.5"/><circle cx="2094.4" cy="1379.0" r="5.5"/><circle cx="2098.8" cy="1394.4" r="5.5"/><circle cx="2103.2" cy="1394.4" r="5.5"/><circle cx="2107.6" cy="1394.4" r="5.5"/><circle cx="2112.0" cy="1394.4" r="5.5"/><circle cx="2116.6" cy="1394.4" r="5.5"/><circle cx="2121.6" cy="1394.4" r="5.5"/><circle cx="2126.2" cy="1386.7" r="5.5"/><circle cx="2131.7" cy="1375.4" r="5.5"/></g>
<text class="s" transform="translate(1836.03,1191.50) scale(0.7621,1.0000)" font-size="41.5" fill="#000" stroke="#000">1</text>
<text class="s" transform="translate(1819.17,1297.50) scale(0.9197,1.0000)" font-size="41.5" fill="#000" stroke="#000">0.5</text>
<text class="s" transform="translate(1834.88,1403.80) scale(0.9740,1.0000)" font-size="41.5" fill="#000" stroke="#000">0</text>
<text class="s" transform="translate(1917.03,1444.00) scale(0.9978,1.0000)" font-size="43.5" fill="#000" stroke="#000">Ctrl</text>
<text class="s" transform="translate(2056.50,1444.00) scale(0.9420,1.0000)" font-size="43.5" fill="#000" stroke="#000">Act</text>
<text class="s" transform="translate(1749.60,1483.79) rotate(-90) scale(1.0829,1.0000)" font-size="41.0" word-spacing="-2.71" fill="#000" stroke="#000">Transition probability</text>
<text class="s" transform="translate(1799.60,1442.87) rotate(-90) scale(1.0827,1.0000)" font-size="41.0" word-spacing="-2.71" fill="#000" stroke="#000">to no-interaction</text>
</g>
<g id="panel-h1">
<rect x="813.00" y="1850.40" width="115.70" height="12.60" fill="#4bae7c" stroke="#143a27" stroke-width="1.0"/>
<rect x="954.50" y="1805.30" width="115.50" height="57.70" fill="#4bae7c" stroke="#143a27" stroke-width="1.0"/>
<line x1="799.00" y1="1650.00" x2="799.00" y2="1863.80" stroke="#000" stroke-width="1.6" stroke-linecap="butt"/>
<line x1="798.20" y1="1863.00" x2="1088.00" y2="1863.00" stroke="#000" stroke-width="1.6" stroke-linecap="butt"/>
<line x1="799.00" y1="1650.70" x2="803.20" y2="1650.70" stroke="#000" stroke-width="1.3" stroke-linecap="butt"/>
<line x1="799.00" y1="1756.85" x2="803.20" y2="1756.85" stroke="#000" stroke-width="1.3" stroke-linecap="butt"/>
<line x1="870.80" y1="1842.00" x2="870.80" y2="1850.40" stroke="#666" stroke-width="0.9" stroke-linecap="butt"/>
<line x1="867.30" y1="1842.00" x2="874.30" y2="1842.00" stroke="#666" stroke-width="0.9" stroke-linecap="butt"/>
<line x1="1012.00" y1="1796.00" x2="1012.00" y2="1805.30" stroke="#666" stroke-width="0.9" stroke-linecap="butt"/>
<line x1="1008.50" y1="1796.00" x2="1015.50" y2="1796.00" stroke="#666" stroke-width="0.9" stroke-linecap="butt"/>
<g fill="#b3b3b3" stroke="#151515" stroke-width="1.0"><circle cx="827.5" cy="1810.1" r="5.5"/><circle cx="842.0" cy="1827.9" r="5.5"/><circle cx="856.3" cy="1862.9" r="5.5"/><circle cx="870.8" cy="1862.9" r="5.5"/><circle cx="885.3" cy="1862.9" r="5.5"/><circle cx="899.6" cy="1862.9" r="5.5"/><circle cx="914.1" cy="1862.9" r="5.5"/><circle cx="968.4" cy="1809.2" r="5.5"/><circle cx="975.3" cy="1774.8" r="5.5"/><circle cx="982.1" cy="1750.7" r="5.5"/><circle cx="988.6" cy="1835.9" r="5.5"/><circle cx="995.4" cy="1827.0" r="5.5"/><circle cx="1001.7" cy="1791.7" r="5.5"/><circle cx="1008.5" cy="1791.4" r="5.5"/><circle cx="1015.3" cy="1813.1" r="5.5"/><circle cx="1021.8" cy="1828.8" r="5.5"/><circle cx="1028.7" cy="1831.8" r="5.5"/><circle cx="1035.5" cy="1742.7" r="5.5"/><circle cx="1042.0" cy="1852.2" r="5.5"/><circle cx="1048.8" cy="1780.4" r="5.5"/><circle cx="1055.4" cy="1847.2" r="5.5"/></g>
<path d="M881.00,1637.60 V1632.00 H996.00 V1637.60" fill="none" stroke="#000" stroke-width="1.6"/>
<text transform="translate(922.36,1638.27) scale(0.7306,0.6786)" font-size="64" fill="#000">**</text>
<text class="s" transform="translate(756.43,1659.60) scale(0.7621,1.0000)" font-size="41.5" fill="#000" stroke="#000">1</text>
<text class="s" transform="translate(739.05,1765.60) scale(0.9363,1.0000)" font-size="41.5" fill="#000" stroke="#000">0.5</text>
<text class="s" transform="translate(754.30,1871.30) scale(1.0247,1.0000)" font-size="41.5" fill="#000" stroke="#000">0</text>
<text class="s" transform="translate(827.83,1911.20) scale(0.9978,1.0000)" font-size="43.5" fill="#000" stroke="#000">Ctrl</text>
<text class="s" transform="translate(980.79,1911.20) scale(0.9485,1.0000)" font-size="43.5" fill="#000" stroke="#000">Act</text>
<text class="s" transform="translate(667.60,1851.28) rotate(-90) scale(1.0607,1.0000)" font-size="41.0" fill="#000" stroke="#000">Probability</text>
<text class="s" transform="translate(717.70,1897.35) rotate(-90) scale(1.0631,1.0000)" font-size="41.0" word-spacing="-2.71" fill="#000" stroke="#000">to switch object</text>
</g>
<g id="panel-h2">
<rect x="1357.30" y="1681.00" width="115.40" height="181.60" fill="#3e80bb" stroke="#14304c" stroke-width="1.0"/>
<rect x="1499.70" y="1735.00" width="115.80" height="127.60" fill="#3e80bb" stroke="#14304c" stroke-width="1.0"/>
<line x1="1342.80" y1="1649.70" x2="1342.80" y2="1863.40" stroke="#000" stroke-width="1.6" stroke-linecap="butt"/>
<line x1="1342.00" y1="1862.60" x2="1632.00" y2="1862.60" stroke="#000" stroke-width="1.6" stroke-linecap="butt"/>
<line x1="1342.80" y1="1650.40" x2="1347.00" y2="1650.40" stroke="#000" stroke-width="1.3" stroke-linecap="butt"/>
<line x1="1342.80" y1="1756.50" x2="1347.00" y2="1756.50" stroke="#000" stroke-width="1.3" stroke-linecap="butt"/>
<line x1="1415.00" y1="1668.00" x2="1415.00" y2="1681.00" stroke="#666" stroke-width="0.9" stroke-linecap="butt"/>
<line x1="1411.50" y1="1668.00" x2="1418.50" y2="1668.00" stroke="#666" stroke-width="0.9" stroke-linecap="butt"/>
<line x1="1557.60" y1="1723.40" x2="1557.60" y2="1735.00" stroke="#666" stroke-width="0.9" stroke-linecap="butt"/>
<line x1="1554.10" y1="1723.40" x2="1561.10" y2="1723.40" stroke="#666" stroke-width="0.9" stroke-linecap="butt"/>
<g fill="#b3b3b3" stroke="#151515" stroke-width="1.0"><circle cx="1371.8" cy="1703.6" r="5.5"/><circle cx="1386.4" cy="1738.9" r="5.5"/><circle cx="1400.6" cy="1671.5" r="5.5"/><circle cx="1415.2" cy="1703.6" r="5.5"/><circle cx="1429.4" cy="1650.4" r="5.5"/><circle cx="1443.9" cy="1650.4" r="5.5"/><circle cx="1457.9" cy="1650.4" r="5.5"/><circle cx="1514.3" cy="1729.1" r="5.5"/><circle cx="1520.8" cy="1762.0" r="5.5"/><circle cx="1527.6" cy="1761.4" r="5.5"/><circle cx="1534.2" cy="1702.7" r="5.5"/><circle cx="1541.0" cy="1684.9" r="5.5"/><circle cx="1547.5" cy="1750.7" r="5.5"/><circle cx="1554.3" cy="1791.1" r="5.5"/><circle cx="1560.9" cy="1763.5" r="5.5"/><circle cx="1567.4" cy="1694.4" r="5.5"/><circle cx="1574.2" cy="1725.2" r="5.5"/><circle cx="1580.7" cy="1782.2" r="5.5"/><circle cx="1587.6" cy="1669.7" r="5.5"/><circle cx="1594.4" cy="1796.1" r="5.5"/><circle cx="1600.9" cy="1679.5" r="5.5"/></g>
<path d="M1424.40,1639.10 V1633.50 H1539.50 V1639.10" fill="none" stroke="#000" stroke-width="1.6"/>
<text transform="translate(1465.26,1639.17) scale(0.7306,0.6786)" font-size="64" fill="#000">**</text>
<text class="s" transform="translate(1300.33,1659.60) scale(0.7621,1.0000)" font-size="41.5" fill="#000" stroke="#000">1</text>
<text class="s" transform="translate(1282.87,1766.00) scale(0.9197,1.0000)" font-size="41.5" fill="#000" stroke="#000">0.5</text>
<text class="s" transform="translate(1298.10,1871.30) scale(1.0247,1.0000)" font-size="41.5" fill="#000" stroke="#000">0</text>
<text class="s" transform="translate(1373.60,1913.10) scale(1.0121,1.0000)" font-size="43.5" fill="#000" stroke="#000">Ctrl</text>
<text class="s" transform="translate(1530.39,1913.10) scale(0.9581,1.0000)" font-size="43.5" fill="#000" stroke="#000">Act</text>
<text class="s" transform="translate(1209.30,1844.20) rotate(-90) scale(1.0660,1.0000)" font-size="41.0" fill="#000" stroke="#000">Probability</text>
<text class="s" transform="translate(1261.60,1920.64) rotate(-90) scale(1.0589,1.0000)" font-size="41.0" word-spacing="-2.71" fill="#000" stroke="#000">of deep interaction</text>
</g>
<g id="panel-h3">
<rect x="1891.70" y="1843.70" width="115.70" height="18.50" fill="#d46230" stroke="#4f200b" stroke-width="1.0"/>
<rect x="2033.00" y="1833.20" width="115.70" height="29.00" fill="#d46230" stroke="#4f200b" stroke-width="1.0"/>
<line x1="1877.40" y1="1649.00" x2="1877.40" y2="1863.00" stroke="#000" stroke-width="1.6" stroke-linecap="butt"/>
<line x1="1876.60" y1="1862.20" x2="2168.00" y2="1862.20" stroke="#000" stroke-width="1.6" stroke-linecap="butt"/>
<line x1="1877.40" y1="1649.70" x2="1881.60" y2="1649.70" stroke="#000" stroke-width="1.3" stroke-linecap="butt"/>
<line x1="1877.40" y1="1755.95" x2="1881.60" y2="1755.95" stroke="#000" stroke-width="1.3" stroke-linecap="butt"/>
<line x1="1949.50" y1="1834.20" x2="1949.50" y2="1843.70" stroke="#666" stroke-width="0.9" stroke-linecap="butt"/>
<line x1="1946.00" y1="1834.20" x2="1953.00" y2="1834.20" stroke="#666" stroke-width="0.9" stroke-linecap="butt"/>
<line x1="2091.00" y1="1826.80" x2="2091.00" y2="1833.20" stroke="#666" stroke-width="0.9" stroke-linecap="butt"/>
<line x1="2087.50" y1="1826.80" x2="2094.50" y2="1826.80" stroke="#666" stroke-width="0.9" stroke-linecap="butt"/>
<g fill="#b3b3b3" stroke="#151515" stroke-width="1.0"><circle cx="1906.1" cy="1862.2" r="5.5"/><circle cx="1920.7" cy="1809.0" r="5.5"/><circle cx="1934.8" cy="1840.9" r="5.5"/><circle cx="1949.7" cy="1809.0" r="5.5"/><circle cx="1964.1" cy="1862.2" r="5.5"/><circle cx="1978.5" cy="1862.2" r="5.5"/><circle cx="1992.8" cy="1862.2" r="5.5"/><circle cx="2047.1" cy="1835.7" r="5.5"/><circle cx="2054.0" cy="1837.2" r="5.5"/><circle cx="2061.0" cy="1862.2" r="5.5"/><circle cx="2067.4" cy="1835.7" r="5.5"/><circle cx="2073.8" cy="1862.2" r="5.5"/><circle cx="2080.5" cy="1831.5" r="5.5"/><circle cx="2087.5" cy="1790.9" r="5.5"/><circle cx="2094.2" cy="1796.6" r="5.5"/><circle cx="2101.1" cy="1850.6" r="5.5"/><circle cx="2107.8" cy="1816.4" r="5.5"/><circle cx="2114.0" cy="1848.9" r="5.5"/><circle cx="2120.7" cy="1851.8" r="5.5"/><circle cx="2127.6" cy="1796.6" r="5.5"/><circle cx="2134.3" cy="1846.9" r="5.5"/></g>
<text class="s" transform="translate(1835.03,1659.20) scale(0.7621,1.0000)" font-size="41.5" fill="#000" stroke="#000">1</text>
<text class="s" transform="translate(1817.95,1765.00) scale(0.9307,1.0000)" font-size="41.5" fill="#000" stroke="#000">0.5</text>
<text class="s" transform="translate(1832.80,1870.80) scale(1.0247,1.0000)" font-size="41.5" fill="#000" stroke="#000">0</text>
<text class="s" transform="translate(1914.10,1911.50) scale(1.0121,1.0000)" font-size="43.5" fill="#000" stroke="#000">Ctrl</text>
<text class="s" transform="translate(2062.19,1911.50) scale(0.9581,1.0000)" font-size="43.5" fill="#000" stroke="#000">Act</text>
<text class="s" transform="translate(1749.00,1945.87) rotate(-90) scale(1.0661,1.0000)" font-size="41.0" word-spacing="-2.71" fill="#000" stroke="#000">Transition probability</text>
<text class="s" transform="translate(1798.20,1907.96) rotate(-90) scale(1.0733,1.0000)" font-size="41.0" word-spacing="-2.71" fill="#000" stroke="#000">to no-interaction</text>
</g>
<defs><radialGradient id="shadow" cx="0.5" cy="0.5" r="0.5"><stop offset="0" stop-color="#8e8e93"/><stop offset="0.1" stop-color="#9b9ba0"/><stop offset="0.2" stop-color="#b4b4b8"/><stop offset="0.35" stop-color="#cbcbce"/><stop offset="0.5" stop-color="#d9d9db"/><stop offset="0.7" stop-color="#e8e8ea"/><stop offset="0.9" stop-color="#f3f3f4"/><stop offset="1" stop-color="#f8f8f9"/></radialGradient></defs>
<g id="panel-c">
<ellipse cx="385" cy="789.5" rx="121" ry="57" fill="url(#shadow)" transform="rotate(3 385 789.5)"/>
<circle cx="408.6" cy="729.3" r="12.6" fill="#d3d7db" stroke="#3c5e9e" stroke-width="3.5"/>
<circle cx="494.0" cy="745.0" r="12.6" fill="#e4e6e9" stroke="#3c5e9e" stroke-width="3.5"/>
<circle cx="439.0" cy="789.0" r="12.6" fill="#ffffff" stroke="#3c5e9e" stroke-width="3.5"/>
<circle cx="492.6" cy="825.5" r="12.6" fill="#8a8a8a" stroke="#3c5e9e" stroke-width="3.5"/>
<circle cx="387.0" cy="839.7" r="12.6" fill="#231f20" stroke="#3c5e9e" stroke-width="3.5"/>
<g transform="translate(280.00,730.00) scale(0.06925)" fill="#000">
<path d="M1310,900 C1450,925 1610,890 1715,790 C1765,740 1785,680 1778,612" fill="none" stroke="#231f20" stroke-width="52" stroke-linecap="butt"/>
<ellipse cx="1085" cy="775" rx="375" ry="250" transform="rotate(14 1085 775)"/>
<ellipse cx="610" cy="640" rx="255" ry="128" transform="rotate(18 610 640)"/>
<ellipse cx="775" cy="472" rx="138" ry="122"/>
<ellipse cx="655" cy="955" rx="132" ry="172" transform="rotate(22 655 955)"/>
<g fill="none" stroke="#111" stroke-width="22" stroke-linecap="round"><path d="M440,545 C440,440 500,330 590,296"/><path d="M482,545 C490,470 530,400 585,370"/><path d="M372,630 C300,660 240,740 215,818"/><path d="M385,652 C330,700 300,780 300,850"/></g>
</g>
<path transform="translate(365,657)" d="M26.4,-0.7 L20.3,24.8 Q27.5,27.4 36,27.8 Q23.6,43.7 0.3,64.7 L19.9,36.7 L5.4,37.6 Z" fill="#5fcdf1"/>
<text class="s" transform="translate(210.16,707.70) scale(1.0190,1.0000)" font-size="41.0" word-spacing="-2.71" fill="#000" stroke="#000">Laser on</text>
<text class="s" transform="translate(51.80,801.70) scale(0.9645,1.0000)" font-size="41.0" fill="#000" stroke="#000">VGluT2-Cre</text>
<text class="s" transform="translate(95.73,856.00) scale(0.9675,1.0000)" font-size="41.0" word-spacing="-2.71" fill="#000" stroke="#000">: ChR2</text>
<text class="s" transform="translate(246.05,906.30) scale(1.0838,1.0000)" font-size="41.0" word-spacing="-2.71" fill="#000" stroke="#000">No interaction</text>
<text class="s" transform="translate(181.08,959.60) scale(1.0639,1.0000)" font-size="41.0" word-spacing="-2.71" fill="#000" stroke="#000">(distant from objects)</text>
</g>
<g id="panel-e">
<ellipse cx="379" cy="1273" rx="122" ry="57" fill="url(#shadow)" transform="rotate(3 379 1273)"/>
<circle cx="410.0" cy="1214.0" r="12.6" fill="#d3d7db" stroke="#3c5e9e" stroke-width="3.5"/>
<circle cx="495.0" cy="1230.0" r="12.6" fill="#e4e6e9" stroke="#3c5e9e" stroke-width="3.5"/>
<circle cx="432.6" cy="1272.0" r="12.6" fill="#ffffff" stroke="#3c5e9e" stroke-width="3.5"/>
<circle cx="493.5" cy="1310.0" r="12.6" fill="#8a8a8a" stroke="#3c5e9e" stroke-width="3.5"/>
<circle cx="388.0" cy="1324.0" r="12.6" fill="#231f20" stroke="#3c5e9e" stroke-width="3.5"/>
<g transform="translate(359.60,1266.00) scale(0.06925) translate(-860,-665)" fill="#000">
<path d="M590,620 C480,600 330,690 250,810 C205,880 195,950 212,1012" fill="none" stroke="#231f20" stroke-width="52" stroke-linecap="butt"/>
<ellipse cx="860" cy="665" rx="385" ry="258"/>
<ellipse cx="1325" cy="678" rx="268" ry="140" transform="rotate(8 1325 678)"/>
<ellipse cx="1218" cy="390" rx="148" ry="166"/>
<ellipse cx="1222" cy="875" rx="142" ry="138" transform="rotate(-15 1222 875)"/>
<g fill="none" stroke="#111" stroke-width="22" stroke-linecap="round"><path d="M1555,600 C1590,540 1600,460 1582,398"/><path d="M1598,622 C1640,560 1668,480 1670,408"/><path d="M1512,775 C1510,840 1480,905 1435,930"/><path d="M1542,778 C1545,860 1510,960 1452,1008"/></g>
</g>
<path transform="translate(360,1140)" d="M26.4,-0.7 L20.3,24.8 Q27.5,27.4 36,27.8 Q23.6,43.7 0.3,64.7 L19.9,36.7 L5.4,37.6 Z" fill="#5fcdf1"/>
<text class="s" transform="translate(203.68,1190.00) scale(1.0137,1.0000)" font-size="41.0" word-spacing="-2.71" fill="#000" stroke="#000">Laser on</text>
<text class="s" transform="translate(39.80,1285.70) scale(0.9645,1.0000)" font-size="41.0" fill="#000" stroke="#000">VGluT2-Cre</text>
<text class="s" transform="translate(84.26,1340.00) scale(0.9591,1.0000)" font-size="41.0" word-spacing="-2.71" fill="#000" stroke="#000">: ChR2</text>
<text class="s" transform="translate(216.14,1387.80) scale(1.0556,1.0000)" font-size="41.0" word-spacing="-2.71" fill="#000" stroke="#000">Close to an object</text>
<text class="s" transform="translate(303.00,1443.60) scale(1.1158,1.0000)" font-size="41.0" word-spacing="-2.71" fill="#000" stroke="#000">/ sniffing</text>
</g>
<g id="panel-g">
<ellipse cx="380" cy="1742" rx="122" ry="57" fill="url(#shadow)" transform="rotate(3 380 1742)"/>
<circle cx="407.7" cy="1684.0" r="12.6" fill="#d3d7db" stroke="#3c5e9e" stroke-width="3.5"/>
<circle cx="493.2" cy="1700.3" r="12.6" fill="#e4e6e9" stroke="#3c5e9e" stroke-width="3.5"/>
<circle cx="434.7" cy="1741.8" r="12.6" fill="#ffffff" stroke="#3c5e9e" stroke-width="3.5"/>
<circle cx="491.7" cy="1780.4" r="12.6" fill="#8a8a8a" stroke="#3c5e9e" stroke-width="3.5"/>
<circle cx="386.4" cy="1794.7" r="12.6" fill="#231f20" stroke="#3c5e9e" stroke-width="3.5"/>
<g transform="translate(389.30,1740.90) scale(0.06925) translate(-860,-665)" fill="#000">
<path d="M590,620 C480,600 330,690 250,810 C205,880 195,950 212,1012" fill="none" stroke="#231f20" stroke-width="52" stroke-linecap="butt"/>
<ellipse cx="860" cy="665" rx="385" ry="258"/>
<ellipse cx="1325" cy="678" rx="268" ry="140" transform="rotate(8 1325 678)"/>
<ellipse cx="1218" cy="390" rx="148" ry="166"/>
<ellipse cx="1222" cy="875" rx="142" ry="138" transform="rotate(-15 1222 875)"/>
<g fill="none" stroke="#111" stroke-width="22" stroke-linecap="round"><path d="M1555,600 C1590,540 1600,460 1582,398"/><path d="M1598,622 C1640,560 1668,480 1670,408"/><path d="M1512,775 C1510,840 1480,905 1435,930"/><path d="M1542,778 C1545,860 1510,960 1452,1008"/></g>
</g>
<path transform="translate(360.5,1609)" d="M26.4,-0.7 L20.3,24.8 Q27.5,27.4 36,27.8 Q23.6,43.7 0.3,64.7 L19.9,36.7 L5.4,37.6 Z" fill="#5fcdf1"/>
<text class="s" transform="translate(202.87,1660.00) scale(1.0150,1.0000)" font-size="41.0" word-spacing="-2.71" fill="#000" stroke="#000">Laser on</text>
<text class="s" transform="translate(39.80,1755.00) scale(0.9645,1.0000)" font-size="41.0" fill="#000" stroke="#000">VGluT2-Cre</text>
<text class="s" transform="translate(84.26,1809.50) scale(0.9591,1.0000)" font-size="41.0" word-spacing="-2.71" fill="#000" stroke="#000">: ChR2</text>
<text class="s" transform="translate(221.88,1858.00) scale(1.0737,1.0000)" font-size="41.0" word-spacing="-2.71" fill="#000" stroke="#000">Deep interaction</text>
<text class="s" transform="translate(248.50,1912.50) scale(1.0878,1.0000)" font-size="41.0" word-spacing="-2.71" fill="#000" stroke="#000">with an object</text>
</g>
</svg>
</body>
</html>
